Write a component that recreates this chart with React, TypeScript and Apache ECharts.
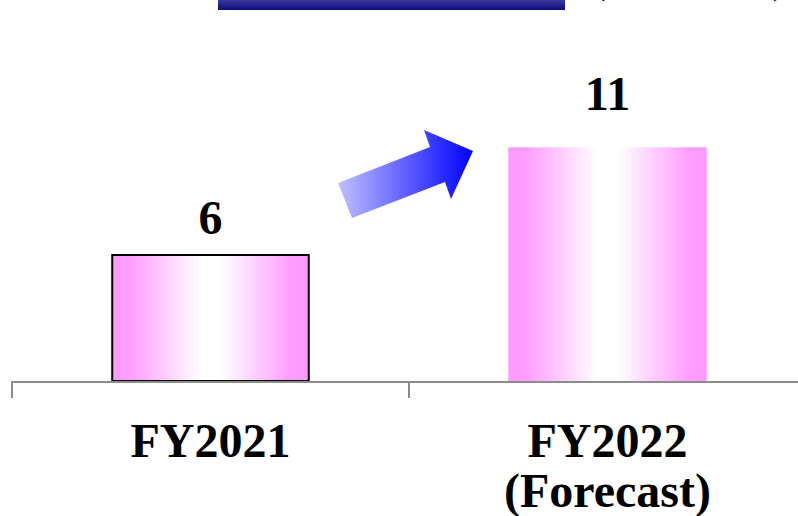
import React, { useEffect, useRef } from "react";
import * as echarts from "echarts";

// Fiscal years on the category axis and their values
const categories = ["FY2021", "FY2022\n(Forecast)"];
const values = [6, 11];
const unitLabel = "(¥ billion)";

const SERIF = "'Liberation Serif', 'Times New Roman', serif";

const pinkFill = new echarts.graphic.LinearGradient(0, 0, 1, 0, [
  { offset: 0, color: "#ff99ff" },
  { offset: 0.1, color: "#ffa0ff" },
  { offset: 0.45, color: "#ffffff" },
  { offset: 0.55, color: "#ffffff" },
  { offset: 0.9, color: "#ffa0ff" },
  { offset: 1, color: "#ff99ff" },
]);

export default function App() {
  const ref = useRef<HTMLDivElement>(null);

  useEffect(() => {
    if (!ref.current) return;
    const chart = echarts.init(ref.current, null, { renderer: "svg" });

    chart.setOption({
      animation: false,
      backgroundColor: "#ffffff",
      grid: {
        left: 12,
        width: 794,
        top: 62,
        bottom: 134,
        containLabel: false,
        outerBoundsMode: "none",
      },
      xAxis: {
        type: "category",
        data: categories,
        z: 3,
        axisLine: { lineStyle: { color: "#8c8c8c", width: 2 } },
        axisTick: {
          show: true,
          length: 16,
          alignWithLabel: false,
          lineStyle: { color: "#8c8c8c", width: 2 },
        },
        axisLabel: {
          margin: 33,
          color: "#000",
          fontFamily: SERIF,
          fontWeight: "bold",
          fontSize: 48,
          lineHeight: 50,
          interval: 0,
        },
      },
      yAxis: {
        type: "value",
        min: 0,
        max: 15,
        show: false,
        splitLine: { show: false },
      },
      series: [
        {
          type: "bar",
          barWidth: "50%",
          data: values.map((v, i) => ({
            value: v,
            itemStyle: {
              color: pinkFill,
              borderColor: i === 0 ? "#000" : "transparent",
              borderWidth: i === 0 ? 2 : 0,
            },
            label: { distance: i === 0 ? 13 : 30 },
          })),
          label: {
            show: true,
            position: "top",
            color: "#000",
            fontFamily: SERIF,
            fontWeight: "bold",
            fontSize: 48,
          },
        },
      ],
      graphic: [
        {
          type: "rect",
          shape: { x: 218, y: 0, width: 347, height: 10 },
          style: {
            fill: new echarts.graphic.LinearGradient(0, 0, 0, 1, [
              { offset: 0, color: "#3a3a9c" },
              { offset: 1, color: "#0c0c7c" },
            ]),
          },
        },
        {
          type: "text",
          x: 689,
          y: -26,
          style: {
            text: unitLabel,
            fill: "#000",
            font: `bold 48px ${SERIF}`,
            align: "center",
            verticalAlign: "middle",
          },
        },
        {
          type: "polygon",
          shape: {
            points: [
              [338, 183],
              [430, 147],
              [424, 130],
              [473, 151],
              [451, 199],
              [445, 182],
              [352, 218],
            ],
          },
          style: {
            fill: new echarts.graphic.LinearGradient(0, 0, 1, 0, [
              { offset: 0, color: "#c0c0ff" },
              { offset: 1, color: "#0000ff" },
            ]),
          },
        },
      ],
    });

    return () => chart.dispose();
  }, []);

  return (
    <div
      ref={ref}
      style={{ position: "fixed", left: 0, top: 0, width: 798, height: 516 }}
    />
  );
}
